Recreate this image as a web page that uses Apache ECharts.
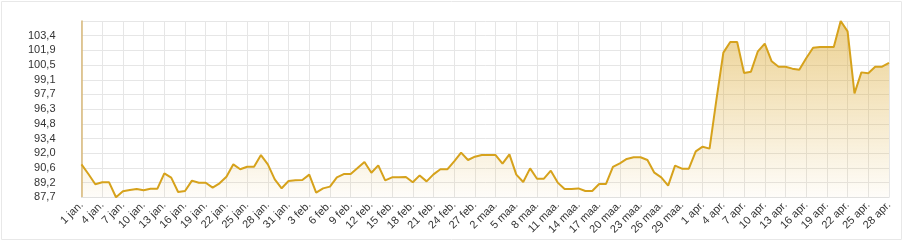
<!DOCTYPE html>
<html>
<head>
<meta charset="utf-8">
<script src="https://cdn.jsdelivr.net/npm/echarts@6/dist/echarts.min.js"></script>
<style>
html,body{margin:0;padding:0;background:#fff;}
#c{width:904px;height:242px;}
</style>
</head>
<body>
<div id="c"></div>
<script>
// Month names (Dutch) and number of days shown per month
const monthNames = ['jan.', 'feb.', 'maa.', 'apr.'];
const monthDays = [31, 28, 31, 28];

// Daily values, 1 jan. .. 28 apr.
const values = [
  90.92, 89.98, 88.99, 89.18, 89.18, 87.73, 88.31, 88.44, 88.53, 88.41,
  88.56, 88.56, 90.05, 89.63, 88.24, 88.34, 89.34, 89.14, 89.14, 88.66,
  89.08, 89.72, 90.92, 90.44, 90.69, 90.69, 91.82, 90.92, 89.47, 88.60,
  89.31, 89.38, 89.40, 89.92, 88.18, 88.59, 88.76, 89.66, 89.98, 89.98,
  90.56, 91.15, 90.11, 90.82, 89.37, 89.66, 89.66, 89.69, 89.18, 89.85,
  89.27, 89.95, 90.44, 90.44, 91.21, 92.05, 91.34, 91.66, 91.82, 91.82,
  91.82, 90.98, 91.89, 89.92, 89.21, 90.53, 89.53, 89.53, 90.31, 89.15,
  88.53, 88.53, 88.59, 88.34, 88.34, 89.02, 89.02, 90.67, 91.02, 91.44,
  91.60, 91.60, 91.34, 90.11, 89.66, 88.86, 90.79, 90.50, 90.50, 92.18,
  92.63, 92.44, 97.20, 101.73, 102.76, 102.76, 99.76, 99.89, 101.86, 102.60,
  100.89, 100.37, 100.37, 100.18, 100.08, 101.18, 102.21, 102.27, 102.27, 102.27,
  104.79, 103.79, 97.79, 99.82, 99.73, 100.37, 100.37, 100.73
];

// Y tick labels, bottom to top (top tick has no label)
const yTickLabels = ['87,7', '89,2', '90,6', '92,0', '93,4', '94,8', '96,3', '97,7', '99,1', '100,5', '101,9', '103,4', ''];
const yMin = 87.729;
const yStep = 1.422;
const yMax = 104.793;

const categories = [];
monthNames.forEach((m, i) => {
  for (let d = 1; d <= monthDays[i]; d++) categories.push(d + ' ' + m);
});

const chart = echarts.init(document.getElementById('c'), null, {renderer: 'canvas'});
chart.setOption({
  animation: false,
  graphic: [{
    type: 'rect',
    shape: {x: 1.5, y: 1.5, width: 900, height: 238},
    style: {fill: 'none', stroke: '#e8e8e8', lineWidth: 1},
    silent: true
  }],
  grid: {left: 81.5, right: 15, top: 21, bottom: 44.7, containLabel: false},
  xAxis: {
    type: 'category',
    data: categories,
    boundaryGap: false,
    axisLine: {show: true, lineStyle: {color: '#e0e0e0', width: 1}},
    axisTick: {show: false, interval: 2},
    axisLabel: {
      interval: 2, rotate: 45, color: '#333', fontSize: 11,
      fontFamily: 'Liberation Sans, Arial, sans-serif', margin: 6
    },
    splitLine: {show: true, interval: 2, lineStyle: {color: '#e6e6e6', width: 1}}
  },
  yAxis: {
    type: 'value',
    min: yMin,
    max: yMax,
    interval: yStep,
    axisLine: {show: true, lineStyle: {color: '#d8b878', width: 1.5}},
    axisTick: {show: false},
    axisLabel: {
      color: '#333', fontSize: 11, margin: 26, showMaxLabel: false,
      fontFamily: 'Liberation Sans, Arial, sans-serif',
      formatter: (v, i) => (yTickLabels[i] !== undefined ? yTickLabels[i] : '')
    },
    splitLine: {show: true, lineStyle: {color: '#e6e6e6', width: 1}}
  },
  series: [{
    type: 'line',
    data: values,
    showSymbol: false,
    smooth: false,
    lineStyle: {color: '#d6a21c', width: 2},
    itemStyle: {color: '#d6a21c'},
    areaStyle: {
      color: new echarts.graphic.LinearGradient(0, 0, 0, 1, [
        {offset: 0, color: 'rgba(218,165,40,0.72)'},
        {offset: 1, color: 'rgba(218,165,40,0.04)'}
      ])
    }
  }]
});
</script>
</body>
</html>
